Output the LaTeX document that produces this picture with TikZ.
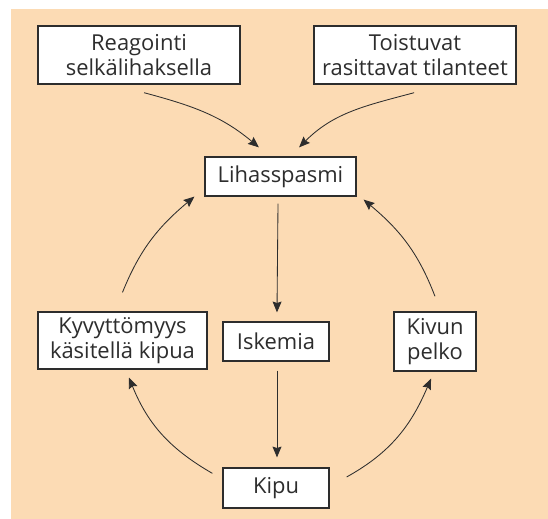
\documentclass[tikz,border=0pt]{standalone}
\usepackage{fontspec}
\setmainfont{Open Sans}
\usetikzlibrary{arrows.meta}
\definecolor{peach}{RGB}{252,219,180}
\definecolor{ink}{RGB}{45,45,45}
\tikzset{
  box/.style={draw=ink, line width=1.2pt, fill=white, text=ink, align=center,
    inner sep=0pt, font=\fontsize{20.8}{24}\selectfont},
  arr/.style={draw=ink, line width=0.8pt, -{Stealth[length=3.6mm,width=3mm,inset=0.5mm]}}
}

\begin{document}
\begin{tikzpicture}
      \useasboundingbox (0,0) rectangle (18.267,17.3);
      \fill[peach] (0.367,0) rectangle (18.267,17.0);
      % boxes
      \node[box, minimum width=6.733cm, minimum height=1.933cm] (reag) at (4.633,15.467) {Reagointi\\selkälihaksella};
      \node[box, minimum width=6.733cm, minimum height=1.933cm] (tois) at (13.833,15.467) {Toistuvat\\rasittavat tilanteet};
      \node[box, minimum width=5.033cm, minimum height=1.3cm] (lihas) at (9.35,11.417) {Lihasspasmi};
      \node[box, minimum width=5.633cm, minimum height=1.9cm] (kyv) at (4.083,5.95) {Kyvyttömyys\\käsitellä kipua};
      \node[box, minimum width=3.533cm, minimum height=1.3cm] (isk) at (9.2,5.917) {Iskemia};
      \node[box, minimum width=2.733cm, minimum height=1.967cm] (kivun) at (14.5,5.917) {Kivun\\pelko};
      \node[box, minimum width=3.533cm, minimum height=1.333cm] (kipu) at (9.2,1.033) {Kipu};
      % arrows
      \draw[arr] ([shift={(0.17,-0.27)}]reag.south) to[out=-15,in=140] ([shift={(-0.72,0.3)}]lihas.north);
      \draw[arr] ([shift={(-0.03,-0.27)}]tois.south) to[out=195,in=45] ([shift={(0.62,0.3)}]lihas.north);
      \draw[arr] ([shift={(-0.083,-0.23)}]lihas.south) -- ([shift={(0.033,0.3)}]isk.north);
      \draw[arr] ([shift={(0.033,-0.3)}]isk.south) -- ([shift={(0.033,0.333)}]kipu.north);
      \draw[arr] ([shift={(-0.333,-0.2)}]kipu.north west) to[out=150,in=-68] ([shift={(0.217,-0.267)}]kyv.south);
      \draw[arr] ([shift={(0,0.633)}]kyv.north) to[out=68,in=220] ([shift={(-0.333,0)}]lihas.south west);
      \draw[arr] ([shift={(0.567,0.367)}]kipu.east) to[out=29,in=-113] ([shift={(-0.133,-0.233)}]kivun.south);
      \draw[arr] ([shift={(0,0.5)}]kivun.north) to[out=111,in=-40] ([shift={(0.233,-0.1)}]lihas.south east);
\end{tikzpicture}
\end{document}
